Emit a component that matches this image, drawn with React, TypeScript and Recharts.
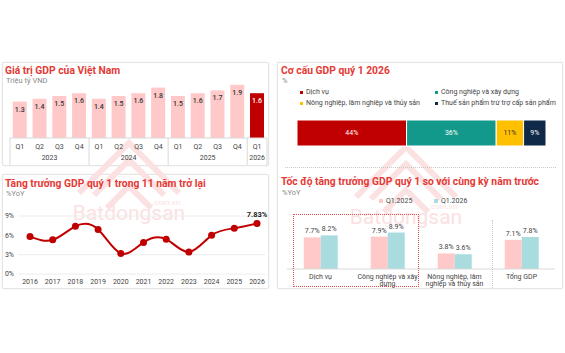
import React from 'react';
import {
  BarChart,
  Bar,
  XAxis,
  YAxis,
  Cell,
  LabelList,
  LineChart,
  Line,
  CartesianGrid,
  Legend,
} from 'recharts';

const FONT = 'Roboto, "Noto Sans", Arial, sans-serif';
const TITLE_RED = '#E53935';
const TEXT = '#444444';

// ---- Chart 1: GDP value by quarter ----
const gdpQuarters = ['Q1', 'Q2', 'Q3', 'Q4', 'Q1', 'Q2', 'Q3', 'Q4', 'Q1', 'Q2', 'Q3', 'Q4', 'Q1'];
const gdpYears = ['2023', '2023', '2023', '2023', '2024', '2024', '2024', '2024', '2025', '2025', '2025', '2025', '2026'];
const gdpValues = [1.3, 1.4, 1.5, 1.6, 1.4, 1.5, 1.6, 1.8, 1.5, 1.6, 1.7, 1.9, 1.6];

// ---- Chart 2: Q1 growth over 11 years ----
const growthYears = ['2016', '2017', '2018', '2019', '2020', '2021', '2022', '2023', '2024', '2025', '2026'];
const growthValues = [5.8, 5.3, 7.4, 6.9, 3.2, 4.9, 5.4, 3.4, 6.0, 7.1, 7.83];
const growthTicks = [0, 3, 6, 9];

// ---- Chart 3: GDP structure Q1 2026 ----
const structureNames = [
  'Dịch vụ',
  'Công nghiệp và xây dựng',
  'Nông nghiệp, lâm nghiệp và thủy sản',
  'Thuế sản phẩm trừ trợ cấp sản phẩm',
];
const structureValues = [44, 36, 11, 9];
const structureColors = ['#C00000', '#13998B', '#FFC000', '#0F2A48'];
const structureLabelColors = ['#ffffff', '#ffffff', '#333333', '#ffffff'];

// ---- Chart 4: sector growth ----
const sectorNames = ['Dịch vụ', 'Công nghiệp và xây dựng', 'Nông nghiệp, lâm nghiệp và thủy sản', 'Tổng GDP'];
const sectorLines = [['Dịch vụ'], ['Công nghiệp và xây', 'dựng'], ['Nông nghiệp, lâm', 'nghiệp và thủy sản'], ['Tổng GDP']];
const seriesNames = ['Q1.2025', 'Q1.2026'];
const q12025 = [7.7, 7.9, 3.8, 7.1];
const q12026 = [8.2, 8.9, 3.6, 7.8];

const gdpData = gdpQuarters.map((q, i) => ({ key: `${gdpYears[i]}-${q}`, q, year: gdpYears[i], value: gdpValues[i] }));
const growthData = growthYears.map((y, i) => ({ year: y, value: growthValues[i] }));
const structureRow: Record<string, any> = { name: 'Q1 2026' };
structureNames.forEach((n, i) => (structureRow[n] = structureValues[i]));
const structureData = [structureRow];
const sectorData = sectorNames.map((n, i) => ({ name: n, a: q12025[i], b: q12026[i] }));

// layout of chart 1
const C1_W = 280;
const C1_M = { top: 22, right: 13, bottom: 0, left: 10 };
const C1_BAND = (C1_W - C1_M.left - C1_M.right) / gdpData.length;

const QuarterTick = (props: any) => {
  const { x, y, payload } = props;
  const i = payload.index;
  const yr = gdpYears[i];
  const isFirst = i === 0 || gdpYears[i - 1] !== yr;
  const isLastAll = i === gdpYears.length - 1;
  let end = i;
  while (end + 1 < gdpYears.length && gdpYears[end + 1] === yr) end++;
  const yearCenter = x + ((end - i) / 2) * C1_BAND;
  return (
    <g>
      <text x={x} y={y + 9} textAnchor="middle" dominantBaseline="central" fontSize={7} fill={TEXT} fontFamily={FONT}>
        {gdpQuarters[i]}
      </text>
      {isFirst && (
        <>
          <text x={yearCenter} y={y + 20} textAnchor="middle" dominantBaseline="central" fontSize={7} fill={TEXT} fontFamily={FONT}>
            {yr}
          </text>
          <line x1={x - C1_BAND / 2} x2={x - C1_BAND / 2} y1={y} y2={y + 27} stroke="#d9d9d9" strokeWidth={1} />
        </>
      )}
      {isLastAll && <line x1={x + C1_BAND / 2} x2={x + C1_BAND / 2} y1={y} y2={y + 27} stroke="#d9d9d9" strokeWidth={1} />}
    </g>
  );
};

const GdpLabel = (props: any) => {
  const { x, y, width, index, value } = props;
  const last = index === gdpValues.length - 1;
  return (
    <text
      x={x + width / 2}
      y={y + 8}
      textAnchor="middle"
      dominantBaseline="central"
      fontSize={7}
      fontWeight={500}
      fill={last ? '#ffffff' : '#333333'}
      fontFamily={FONT}
    >
      {Number(value).toFixed(1)}
    </text>
  );
};

const GrowthLabel = (props: any) => {
  const { x, y, index, value } = props;
  if (index !== growthValues.length - 1) return null;
  return (
    <text x={x} y={y - 9} textAnchor="middle" dominantBaseline="central" fontSize={7.5} fontWeight={700} fill="#222" fontFamily={FONT}>
      {`${Number(value).toFixed(2)}%`}
    </text>
  );
};

const makeStructureLabel = (idx: number) => (props: any) => {
  const { x, y, width, height, value } = props;
  return (
    <text
      x={x + width / 2}
      y={y + height / 2}
      textAnchor="middle"
      dominantBaseline="central"
      fontSize={7}
      fill={structureLabelColors[idx]}
      fontFamily={FONT}
    >
      {`${value}%`}
    </text>
  );
};

const orderBy = (payload: any[], names: string[]) =>
  [...payload].sort((a, b) => names.indexOf(a.value) - names.indexOf(b.value));

const StructureLegend = (props: any) => {
  const payload = orderBy(props.payload || [], structureNames);
  return (
    <div
      style={{
        display: 'grid',
        gridTemplateColumns: '135px 135px',
        rowGap: 3,
        fontFamily: FONT,
        fontSize: 7,
        color: TEXT,
      }}
    >
      {payload.map((p: any, i: number) => (
        <div key={i} style={{ display: 'flex', alignItems: 'center', height: 8, whiteSpace: 'nowrap' }}>
          <span style={{ width: 3, height: 3, background: p.color, display: 'inline-block', marginRight: 3 }} />
          {p.value}
        </div>
      ))}
    </div>
  );
};

const SectorLegend = (props: any) => {
  const payload = orderBy(props.payload || [], seriesNames);
  return (
    <div style={{ display: 'flex', fontFamily: FONT, fontSize: 7, color: TEXT }}>
      {payload.map((p: any, i: number) => (
        <div key={i} style={{ display: 'flex', alignItems: 'center', width: 55, whiteSpace: 'nowrap' }}>
          <span style={{ width: 4, height: 4, background: p.color, display: 'inline-block', marginRight: 3 }} />
          {p.value}
        </div>
      ))}
    </div>
  );
};

const SectorTick = (props: any) => {
  const { x, y, payload } = props;
  const lines = sectorLines[payload.index] || [];
  return (
    <g>
      {lines.map((l, i) => (
        <text
          key={i}
          x={x}
          y={y + 8 + i * 7}
          textAnchor="middle"
          dominantBaseline="central"
          fontSize={7}
          fill={TEXT}
          fontFamily={FONT}
        >
          {l}
        </text>
      ))}
    </g>
  );
};

const SectorLabel = (props: any) => {
  const { x, y, width, value } = props;
  return (
    <text x={x + width / 2} y={y - 6} textAnchor="middle" dominantBaseline="central" fontSize={7} fill={TEXT} fontFamily={FONT}>
      {`${Number(value).toFixed(1)}%`}
    </text>
  );
};

const panel = (left: number, top: number, width: number, height: number): React.CSSProperties => ({
  position: 'absolute',
  left,
  top,
  width,
  height,
  border: '1px solid #e4e4e4',
  borderRadius: 2,
  boxShadow: '0 0 2px rgba(0,0,0,0.08)',
  background: '#fff',
  boxSizing: 'border-box',
});

const titleStyle = (left: number, top: number): React.CSSProperties => ({
  position: 'absolute',
  left,
  top,
  fontFamily: FONT,
  fontWeight: 700,
  fontSize: 10.3,
  lineHeight: '12px',
  color: TITLE_RED,
  whiteSpace: 'nowrap',
});

const subStyle = (left: number, top: number): React.CSSProperties => ({
  position: 'absolute',
  left,
  top,
  fontFamily: FONT,
  fontSize: 7.5,
  lineHeight: '8px',
  color: '#8a8a8a',
  whiteSpace: 'nowrap',
});

const abs = (left: number, top: number): React.CSSProperties => ({ position: 'absolute', left, top });

const WM = '#fbe1e1';
const Watermark = ({ cx, cy }: { cx: number; cy: number }) => (
  <div style={{ position: 'absolute', left: cx - 80, top: cy - 90, width: 160, height: 110, pointerEvents: 'none' }}>
    <svg width={160} height={110}>
      <g fill="none" stroke={WM} strokeWidth={6} strokeLinejoin="miter">
        <polyline points="45,72 80,37 115,72" />
        <polyline points="58,85 80,63 102,85" />
        <polyline points="30,70 80,20 130,70" />
      </g>
      <text x={80} y={97} textAnchor="middle" fontSize={21} fontFamily={FONT} fill={WM}>
        Batdongsan
      </text>
      <text x={117} y={82} textAnchor="middle" fontSize={8} fontFamily={FONT} fill={WM}>
        .com.vn
      </text>
    </svg>
  </div>
);

export default function App() {
  return (
    <div style={{ position: 'absolute', left: 0, top: 0, width: 565, height: 353, background: '#fff', overflow: 'hidden' }}>
      <div style={panel(2, 62, 267, 104)} />
      <div style={panel(2, 174, 267, 115)} />
      <div style={panel(277, 62, 286, 227)} />

      <Watermark cx={129} cy={213} />
      <Watermark cx={406} cy={217} />

      {/* dotted divider in right panel */}
      <div style={{ position: 'absolute', left: 285, top: 167, width: 271, borderTop: '1px dotted #c8c8c8' }} />

      <div style={titleStyle(5, 65)}>Giá trị GDP của Việt Nam</div>
      <div style={subStyle(6, 77)}>Triệu tỷ VND</div>
      <div style={titleStyle(5, 178)}>Tăng trưởng GDP quý 1 trong 11 năm trở lại</div>
      <div style={subStyle(6, 190)}>%YoY</div>
      <div style={titleStyle(281, 65)}>Cơ cấu GDP quý 1 2026</div>
      <div style={subStyle(282, 77)}>%</div>
      <div style={titleStyle(281, 176)}>Tốc độ tăng trưởng GDP quý 1 so với cùng kỳ năm trước</div>
      <div style={subStyle(282, 189)}>%YoY</div>

      {/* Chart 1 */}
      <div style={abs(0, 60)}>
        <BarChart width={C1_W} height={110} data={gdpData} margin={C1_M} barCategoryGap="14%">
          <XAxis
            dataKey="key"
            interval={0}
            tickLine={false}
            axisLine={{ stroke: '#d9d9d9' }}
            tickSize={0}
            tickMargin={0}
            height={32}
            tick={<QuarterTick />}
          />
          <YAxis hide domain={[0, 2]} />
          <Bar dataKey="value" isAnimationActive={false}>
            {gdpData.map((d, i) => (
              <Cell key={d.key} fill={i === gdpData.length - 1 ? '#C00000' : '#FFC9C9'} />
            ))}
            <LabelList dataKey="value" content={<GdpLabel />} />
          </Bar>
        </BarChart>
      </div>

      {/* Chart 2 */}
      <div style={abs(0, 170)}>
        <LineChart width={280} height={125} data={growthData} margin={{ top: 46, right: 15, bottom: 0, left: 0 }}>
          <CartesianGrid vertical={false} stroke="#ececec" />
          <XAxis
            dataKey="year"
            interval={0}
            tickLine={false}
            axisLine={false}
            padding={{ left: 12, right: 8 }}
            tickSize={3}
            tickMargin={2}
            height={21}
            tick={{ fontSize: 7, fill: TEXT, fontFamily: FONT }}
          />
          <YAxis
            width={18}
            domain={[0, 9]}
            ticks={growthTicks}
            tickFormatter={(v: number) => `${v}%`}
            tickLine={false}
            axisLine={false}
            tickSize={2}
            tickMargin={2}
            tick={{ fontSize: 7, fill: TEXT, fontFamily: FONT }}
          />
          <Line
            type="natural"
            dataKey="value"
            stroke="#C00000"
            strokeWidth={2}
            dot={{ r: 3.5, fill: '#C00000', stroke: '#C00000', strokeWidth: 0 }}
            isAnimationActive={false}
          >
            <LabelList dataKey="value" content={<GrowthLabel />} />
          </Line>
        </LineChart>
      </div>

      {/* Chart 3 */}
      <div style={abs(277, 62)}>
        <BarChart
          width={286}
          height={105}
          data={structureData}
          layout="vertical"
          margin={{ top: 58, right: 17, bottom: 21, left: 20 }}
          barCategoryGap={0}
        >
          <XAxis type="number" hide domain={[0, 100]} />
          <YAxis type="category" dataKey="name" hide />
          <Legend
            layout="horizontal"
            verticalAlign="middle"
            align="center"
            content={<StructureLegend />}
            wrapperStyle={{ left: 23, top: 26, width: 275, height: 20 }}
          />
          {structureNames.map((n, i) => (
            <Bar key={n} dataKey={n} name={n} stackId="s" fill={structureColors[i]} stroke="#ffffff" strokeWidth={1} isAnimationActive={false}>
              <LabelList dataKey={n} content={makeStructureLabel(i)} />
            </Bar>
          ))}
        </BarChart>
      </div>

      {/* Chart 4 */}
      <div style={abs(277, 170)}>
        <BarChart
          width={286}
          height={120}
          data={sectorData}
          margin={{ top: 58, right: 8, bottom: 0, left: 10 }}
          barCategoryGap="25%"
          barGap={0}
        >
          <XAxis
            dataKey="name"
            interval={0}
            tickLine={false}
            axisLine={{ stroke: '#d9d9d9' }}
            tickSize={0}
            tickMargin={0}
            height={21}
            tick={<SectorTick />}
          />
          <YAxis hide domain={[0, 10]} />
          <Legend
            layout="horizontal"
            verticalAlign="middle"
            align="center"
            content={<SectorLegend />}
            wrapperStyle={{ left: 102, top: 27, width: 120, height: 10 }}
          />
          <Bar dataKey="a" name={seriesNames[0]} fill="#FFC9C9" isAnimationActive={false}>
            <LabelList dataKey="a" content={<SectorLabel />} />
          </Bar>
          <Bar dataKey="b" name={seriesNames[1]} fill="#A8DCDF" isAnimationActive={false}>
            <LabelList dataKey="b" content={<SectorLabel />} />
          </Bar>
        </BarChart>
      </div>

      {/* annotations in chart 4 */}
      <div style={{ position: 'absolute', left: 293, top: 214, width: 126, height: 73, border: '1px dotted #E05050', boxSizing: 'border-box', pointerEvents: 'none' }} />
      <div style={{ position: 'absolute', left: 492, top: 220, height: 68, borderLeft: '1px dotted #c8c8c8', pointerEvents: 'none' }} />
    </div>
  );
}
